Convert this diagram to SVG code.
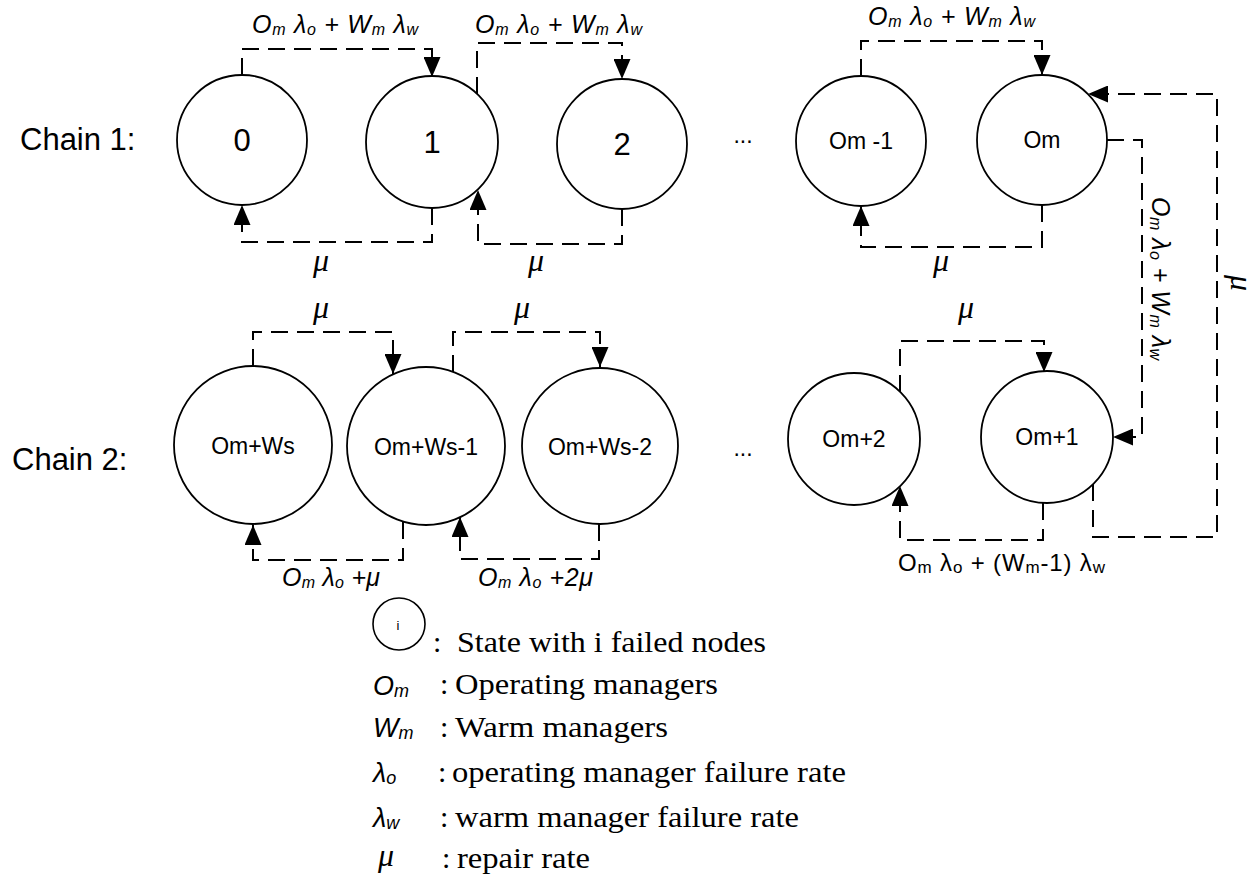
<svg xmlns="http://www.w3.org/2000/svg" width="1259" height="881" viewBox="0 0 1259 881">
<style>
.node{fill:#fff;stroke:#000;stroke-width:1.8}
.nt{font-family:"Liberation Sans",Arial,sans-serif;font-size:23px;text-anchor:middle;fill:#000}
.big{font-size:31px}
.conn{fill:none;stroke:#000;stroke-width:2;stroke-dasharray:17 9;marker-end:url(#arr)}
.lab{font-family:"Liberation Sans",Arial,sans-serif;font-style:italic;font-size:25px;fill:#000}
.sub{font-size:16px}
.mu{font-family:"Liberation Serif","Times New Roman",serif;font-style:italic;font-size:32px;fill:#000;text-anchor:middle}
.chain{font-family:"Liberation Sans",Arial,sans-serif;font-size:31px;fill:#000}
.leg{font-family:"Liberation Serif","Times New Roman",serif;font-size:30px;fill:#000}
.sym{font-family:"Liberation Sans",Arial,sans-serif;font-style:italic;font-size:27px;fill:#000}
.plain{font-family:"Liberation Sans",Arial,sans-serif;font-size:24px;fill:#000}
</style>
<defs>
<marker id="arr" viewBox="0 0 20 17" refX="20" refY="8.5" markerWidth="20" markerHeight="17" markerUnits="userSpaceOnUse" orient="auto">
<path d="M0,0 L20,8.5 L0,17 z" fill="#000"/>
</marker>
</defs>
<rect width="1259" height="881" fill="#fff"/>

<g id="labels-chain">
<text class="chain" x="20" y="150">Chain 1:</text>
<text class="chain" x="12" y="470">Chain 2:</text>
<text class="nt" x="743" y="143">...</text>
<text class="nt" x="743" y="456">...</text>
</g>

<g id="connectors">
<path class="conn" d="M242,75 V49 H432 V77"/>
<path class="conn" d="M432,208 V242 H242 V205"/>
<path class="conn" d="M477,94 V43 H622 V79"/>
<path class="conn" d="M622,209 V244 H478 V190"/>
<path class="conn" d="M861,76 V41 H1042 V75"/>
<path class="conn" d="M1042,205 V247 H861 V206"/>
<path class="conn" d="M1107,140 H1142 V437 H1113"/>
<path class="conn" d="M1093,484 V537 H1217 V94 H1088"/>
<path class="conn" d="M253,366 V332 H393 V374"/>
<path class="conn" d="M453,372 V332 H600 V367"/>
<path class="conn" d="M403,522 V560 H253 V525"/>
<path class="conn" d="M599,524 V559 H460 V517"/>
<path class="conn" d="M900,392 V341 H1044 V372"/>
<path class="conn" d="M1043,503 V540 H900 V486"/>
</g>

<g id="node-0"><circle class="node" cx="242" cy="140" r="65"/><text class="nt big" x="242" y="151">0</text></g>
<g id="node-1"><circle class="node" cx="432" cy="142" r="66"/><text class="nt big" x="432" y="153">1</text></g>
<g id="node-2"><circle class="node" cx="622" cy="144" r="65"/><text class="nt big" x="622" y="155">2</text></g>
<g id="node-om-1"><circle class="node" cx="861" cy="141" r="65"/><text class="nt" x="861" y="149">Om -1</text></g>
<g id="node-om"><circle class="node" cx="1042" cy="140" r="65"/><text class="nt" x="1042" y="148">Om</text></g>
<g id="node-omws"><circle class="node" cx="253" cy="445" r="79"/><text class="nt" x="253" y="454">Om+Ws</text></g>
<g id="node-omws-1"><circle class="node" cx="426" cy="446" r="79"/><text class="nt" x="426" y="455">Om+Ws-1</text></g>
<g id="node-omws-2"><circle class="node" cx="600" cy="446" r="78"/><text class="nt" x="600" y="455">Om+Ws-2</text></g>
<g id="node-om2"><circle class="node" cx="854" cy="439" r="66"/><text class="nt" x="854" y="447">Om+2</text></g>
<g id="node-om1"><circle class="node" cx="1047" cy="437" r="66"/><text class="nt" x="1047" y="445">Om+1</text></g>

<g id="rate-labels">
<text class="lab" x="252" y="33" textLength="166" lengthAdjust="spacing">O<tspan class="sub" dy="2">m</tspan><tspan dy="-2"> λ</tspan><tspan class="sub" dy="2">o</tspan><tspan dy="-2"> + W</tspan><tspan class="sub" dy="2">m</tspan><tspan dy="-2"> λ</tspan><tspan class="sub" dy="2">w</tspan></text>
<text class="lab" x="475" y="33" textLength="167" lengthAdjust="spacing">O<tspan class="sub" dy="2">m</tspan><tspan dy="-2"> λ</tspan><tspan class="sub" dy="2">o</tspan><tspan dy="-2"> + W</tspan><tspan class="sub" dy="2">m</tspan><tspan dy="-2"> λ</tspan><tspan class="sub" dy="2">w</tspan></text>
<text class="lab" x="868" y="25" textLength="167" lengthAdjust="spacing">O<tspan class="sub" dy="2">m</tspan><tspan dy="-2"> λ</tspan><tspan class="sub" dy="2">o</tspan><tspan dy="-2"> + W</tspan><tspan class="sub" dy="2">m</tspan><tspan dy="-2"> λ</tspan><tspan class="sub" dy="2">w</tspan></text>
<text class="lab" transform="translate(1152,197) rotate(90)" x="0" y="0" textLength="163" lengthAdjust="spacing">O<tspan class="sub" dy="2">m</tspan><tspan dy="-2"> λ</tspan><tspan class="sub" dy="2">o</tspan><tspan dy="-2"> + W</tspan><tspan class="sub" dy="2">m</tspan><tspan dy="-2"> λ</tspan><tspan class="sub" dy="2">w</tspan></text>
<text class="mu" transform="translate(1231,283) rotate(90)" x="0" y="0">μ</text>
<text class="mu" x="321" y="271">μ</text>
<text class="mu" x="536" y="271">μ</text>
<text class="mu" x="941" y="271">μ</text>
<text class="mu" x="321" y="318">μ</text>
<text class="mu" x="522" y="318">μ</text>
<text class="mu" x="966" y="318">μ</text>
<text class="lab" x="282" y="586" textLength="98" lengthAdjust="spacing">O<tspan class="sub" dy="2">m</tspan><tspan dy="-2"> λ</tspan><tspan class="sub" dy="2">o</tspan><tspan dy="-2"> +μ</tspan></text>
<text class="lab" x="478" y="586" textLength="115" lengthAdjust="spacing">O<tspan class="sub" dy="2">m</tspan><tspan dy="-2"> λ</tspan><tspan class="sub" dy="2">o</tspan><tspan dy="-2"> +2μ</tspan></text>
<text class="plain" x="898" y="571" textLength="207" lengthAdjust="spacing">O<tspan font-size="17" dy="2">m</tspan><tspan dy="-2"> λ</tspan><tspan font-size="17" dy="2">o</tspan><tspan dy="-2"> + (W</tspan><tspan font-size="17" dy="2">m</tspan><tspan dy="-2">-1) λ</tspan><tspan font-size="17" dy="2">w</tspan></text>
</g>

<g id="legend">
<circle cx="399" cy="624" r="26" fill="#fff" stroke="#000" stroke-width="1.6"/>
<text x="398" y="630" font-family="Liberation Sans, Arial, sans-serif" font-size="13" text-anchor="middle">i</text>
<text class="leg" x="433" y="652">:</text>
<text class="leg" x="457" y="652" textLength="309" lengthAdjust="spacingAndGlyphs">State with i failed nodes</text>
<text class="sym" x="373" y="695">O<tspan font-size="18" dy="2">m</tspan></text>
<text class="leg" x="440" y="694">:</text>
<text class="leg" x="455" y="694" textLength="263" lengthAdjust="spacingAndGlyphs">Operating managers</text>
<text class="sym" x="373" y="737">W<tspan font-size="18" dy="2">m</tspan></text>
<text class="leg" x="440" y="737">:</text>
<text class="leg" x="455" y="737" textLength="213" lengthAdjust="spacingAndGlyphs">Warm managers</text>
<text class="sym" x="373" y="782">λ<tspan font-size="18" dy="2">o</tspan></text>
<text class="leg" x="438" y="782">:</text>
<text class="leg" x="452" y="782" textLength="394" lengthAdjust="spacingAndGlyphs">operating manager failure rate</text>
<text class="sym" x="373" y="827">λ<tspan font-size="18" dy="2">w</tspan></text>
<text class="leg" x="440" y="827">:</text>
<text class="leg" x="455" y="827" textLength="344" lengthAdjust="spacingAndGlyphs">warm manager failure rate</text>
<text class="mu" x="386" y="866">μ</text>
<text class="leg" x="442" y="868">:</text>
<text class="leg" x="457" y="868" textLength="133" lengthAdjust="spacingAndGlyphs">repair rate</text>
</g>
</svg>
